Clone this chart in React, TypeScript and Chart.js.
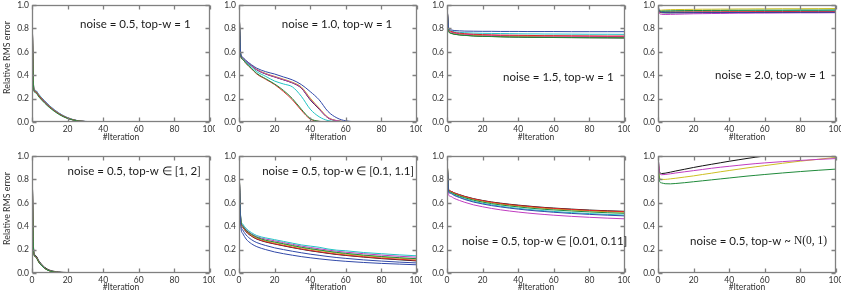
import React, { useEffect, useRef } from "react";
import { Chart, registerables } from "chart.js";

Chart.register(...registerables);

// ---------- shared axes ----------
const ITER = [0, 1, 2, 4, 7, 10, 15, 20, 25, 30, 35, 40, 45, 50, 55, 60, 70, 80, 90, 100];
const X_TICKS = [0, 20, 40, 60, 80, 100];
const Y_TICKS = [0, 0.2, 0.4, 0.6, 0.8, 1.0];
const X_TITLE = "#Iteration";
const Y_TITLE = "Relative RMS error";

// ---------- colours (matplotlib classic cycle) ----------
const C_B = "#3048a8";
const C_G = "#1f8a3a";
const C_R = "#e0282a";
const C_C = "#22c4c4";
const C_M = "#c03cc0";
const C_Y = "#cdbf22";
const C_K = "#111111";

// ---------- panel 1: noise 0.5, top-w = 1 ----------
const P1_B = [1.0, 0.29, 0.27, 0.232, 0.182, 0.137, 0.078, 0.037, 0.014, 0.005, 0.0015, 0.0004, 0.0001, 0, 0, 0, 0, 0, 0, 0];
const P1_G = [0.98, 0.27, 0.25, 0.212, 0.163, 0.121, 0.066, 0.03, 0.011, 0.0035, 0.001, 0.0003, 0, 0, 0, 0, 0, 0, 0, 0];
const P1_R = [0.99, 0.28, 0.26, 0.222, 0.172, 0.129, 0.072, 0.033, 0.012, 0.004, 0.0012, 0.0003, 0, 0, 0, 0, 0, 0, 0, 0];
const P1_C = [1.0, 0.285, 0.265, 0.227, 0.177, 0.133, 0.075, 0.035, 0.013, 0.0045, 0.0013, 0.0003, 0, 0, 0, 0, 0, 0, 0, 0];
const P1_M = [0.99, 0.275, 0.255, 0.218, 0.169, 0.126, 0.07, 0.032, 0.012, 0.004, 0.0012, 0.0003, 0, 0, 0, 0, 0, 0, 0, 0];
const P1_Y = [1.0, 0.283, 0.262, 0.225, 0.175, 0.131, 0.073, 0.034, 0.0125, 0.0042, 0.0012, 0.0003, 0, 0, 0, 0, 0, 0, 0, 0];
const P1_K = [1.0, 0.28, 0.26, 0.221, 0.171, 0.128, 0.071, 0.033, 0.012, 0.004, 0.0012, 0.0003, 0, 0, 0, 0, 0, 0, 0, 0];

// ---------- panel 2: noise 1.0, top-w = 1 ----------
const P2_B = [1.0, 0.58, 0.555, 0.525, 0.49, 0.46, 0.43, 0.41, 0.385, 0.36, 0.32, 0.26, 0.19, 0.09, 0.035, 0.01, 0.001, 0, 0, 0];
const P2_G = [1.0, 0.565, 0.535, 0.5, 0.458, 0.415, 0.37, 0.325, 0.27, 0.2, 0.11, 0.03, 0.006, 0.001, 0, 0, 0, 0, 0, 0];
const P2_R = [1.0, 0.565, 0.535, 0.5, 0.455, 0.41, 0.365, 0.32, 0.26, 0.19, 0.1, 0.025, 0.005, 0.001, 0, 0, 0, 0, 0, 0];
const P2_C = [1.0, 0.57, 0.54, 0.51, 0.47, 0.43, 0.39, 0.35, 0.325, 0.3, 0.22, 0.11, 0.045, 0.012, 0.003, 0.001, 0, 0, 0, 0];
const P2_M = [1.0, 0.572, 0.546, 0.516, 0.482, 0.447, 0.412, 0.387, 0.362, 0.336, 0.293, 0.196, 0.114, 0.037, 0.011, 0.003, 0, 0, 0, 0];
const P2_Y = [1.0, 0.573, 0.548, 0.518, 0.484, 0.45, 0.415, 0.39, 0.366, 0.34, 0.3, 0.205, 0.12, 0.04, 0.012, 0.003, 0, 0, 0, 0];
const P2_K = [1.0, 0.57, 0.545, 0.515, 0.48, 0.445, 0.41, 0.385, 0.36, 0.334, 0.29, 0.19, 0.11, 0.035, 0.01, 0.003, 0, 0, 0, 0];

// ---------- panel 3: noise 1.5, top-w = 1 ----------
const P3_B = [1.0, 0.8, 0.788, 0.782, 0.779, 0.777, 0.776, 0.775, 0.775, 0.774, 0.774, 0.774, 0.773, 0.773, 0.773, 0.773, 0.772, 0.772, 0.772, 0.772];
const P3_G = [1.0, 0.772, 0.758, 0.75, 0.744, 0.74, 0.735, 0.732, 0.73, 0.728, 0.727, 0.726, 0.725, 0.724, 0.723, 0.723, 0.722, 0.721, 0.721, 0.72];
const P3_R = [1.0, 0.79, 0.776, 0.766, 0.759, 0.755, 0.75, 0.747, 0.745, 0.743, 0.742, 0.741, 0.74, 0.739, 0.738, 0.738, 0.737, 0.736, 0.735, 0.735];
const P3_C = [1.0, 0.795, 0.78, 0.771, 0.766, 0.763, 0.76, 0.758, 0.757, 0.756, 0.755, 0.754, 0.753, 0.753, 0.752, 0.752, 0.751, 0.75, 0.75, 0.749];
const P3_M = [1.0, 0.785, 0.77, 0.761, 0.754, 0.75, 0.746, 0.743, 0.741, 0.739, 0.738, 0.737, 0.736, 0.735, 0.734, 0.734, 0.733, 0.732, 0.731, 0.731];
const P3_Y = [1.0, 0.78, 0.766, 0.757, 0.75, 0.746, 0.741, 0.738, 0.736, 0.734, 0.733, 0.732, 0.731, 0.73, 0.729, 0.729, 0.728, 0.727, 0.727, 0.726];
const P3_K = [1.0, 0.776, 0.761, 0.752, 0.745, 0.741, 0.736, 0.733, 0.731, 0.729, 0.727, 0.726, 0.725, 0.724, 0.723, 0.722, 0.721, 0.72, 0.719, 0.718];

// ---------- panel 4: noise 2.0, top-w = 1 ----------
const P4_B = [0.995, 0.945, 0.938, 0.935, 0.934, 0.934, 0.934, 0.935, 0.935, 0.935, 0.935, 0.936, 0.936, 0.936, 0.936, 0.937, 0.937, 0.937, 0.938, 0.938];
const P4_G = [0.96, 0.948, 0.948, 0.949, 0.95, 0.951, 0.952, 0.953, 0.953, 0.954, 0.954, 0.955, 0.955, 0.955, 0.956, 0.956, 0.956, 0.957, 0.957, 0.958];
const P4_R = [0.96, 0.94, 0.939, 0.939, 0.94, 0.94, 0.941, 0.941, 0.942, 0.942, 0.942, 0.943, 0.943, 0.943, 0.944, 0.944, 0.944, 0.945, 0.945, 0.945];
const P4_C = [0.96, 0.944, 0.944, 0.945, 0.946, 0.947, 0.948, 0.948, 0.949, 0.949, 0.95, 0.95, 0.951, 0.951, 0.951, 0.952, 0.952, 0.953, 0.953, 0.954];
const P4_M = [0.95, 0.925, 0.92, 0.919, 0.92, 0.921, 0.923, 0.925, 0.926, 0.927, 0.928, 0.929, 0.93, 0.93, 0.931, 0.931, 0.932, 0.933, 0.933, 0.934];
const P4_Y = [0.96, 0.955, 0.956, 0.958, 0.96, 0.961, 0.962, 0.963, 0.964, 0.964, 0.965, 0.965, 0.966, 0.966, 0.967, 0.967, 0.968, 0.968, 0.969, 0.97];
const P4_K = [0.97, 0.936, 0.934, 0.933, 0.933, 0.934, 0.934, 0.934, 0.935, 0.935, 0.935, 0.935, 0.936, 0.936, 0.936, 0.936, 0.937, 0.937, 0.937, 0.937];

// ---------- panel 5: noise 0.5, top-w in [1, 2] ----------
const P5_B = [1.0, 0.175, 0.145, 0.095, 0.045, 0.02, 0.006, 0.002, 0.0006, 0.0002, 0, 0, 0, 0, 0, 0, 0, 0, 0, 0];
const P5_G = [0.98, 0.165, 0.135, 0.087, 0.04, 0.017, 0.005, 0.0015, 0.0005, 0.0001, 0, 0, 0, 0, 0, 0, 0, 0, 0, 0];
const P5_R = [0.99, 0.17, 0.14, 0.09, 0.042, 0.018, 0.0055, 0.0017, 0.0005, 0.0001, 0, 0, 0, 0, 0, 0, 0, 0, 0, 0];
const P5_C = [1.0, 0.172, 0.142, 0.092, 0.043, 0.019, 0.0058, 0.0018, 0.0005, 0.0001, 0, 0, 0, 0, 0, 0, 0, 0, 0, 0];
const P5_M = [0.99, 0.168, 0.138, 0.089, 0.041, 0.018, 0.0054, 0.0016, 0.0005, 0.0001, 0, 0, 0, 0, 0, 0, 0, 0, 0, 0];
const P5_Y = [1.0, 0.17, 0.141, 0.091, 0.042, 0.0185, 0.0056, 0.0017, 0.0005, 0.0001, 0, 0, 0, 0, 0, 0, 0, 0, 0, 0];
const P5_K = [1.0, 0.18, 0.15, 0.1, 0.05, 0.024, 0.009, 0.004, 0.002, 0.001, 0.0005, 0.0002, 0, 0, 0, 0, 0, 0, 0, 0];

// ---------- panel 6: noise 0.5, top-w in [0.1, 1.1] ----------
const P6_B = [0.93, 0.4, 0.34, 0.29, 0.25, 0.225, 0.2, 0.18, 0.165, 0.152, 0.14, 0.13, 0.121, 0.113, 0.106, 0.1, 0.09, 0.082, 0.076, 0.07];
const P6_G = [0.93, 0.46, 0.405, 0.365, 0.33, 0.305, 0.28, 0.265, 0.25, 0.235, 0.22, 0.208, 0.197, 0.186, 0.176, 0.168, 0.153, 0.141, 0.131, 0.122];
const P6_R = [0.93, 0.45, 0.395, 0.355, 0.318, 0.292, 0.268, 0.25, 0.235, 0.22, 0.205, 0.193, 0.182, 0.171, 0.161, 0.153, 0.139, 0.127, 0.117, 0.108];
const P6_C = [0.93, 0.47, 0.42, 0.38, 0.345, 0.32, 0.3, 0.285, 0.27, 0.255, 0.24, 0.23, 0.22, 0.205, 0.195, 0.19, 0.175, 0.165, 0.155, 0.147];
const P6_M = [0.93, 0.46, 0.41, 0.37, 0.335, 0.31, 0.29, 0.275, 0.26, 0.245, 0.23, 0.218, 0.207, 0.196, 0.186, 0.178, 0.165, 0.153, 0.143, 0.135];
const P6_Y = [0.93, 0.455, 0.4, 0.36, 0.325, 0.3, 0.275, 0.26, 0.245, 0.23, 0.215, 0.203, 0.192, 0.181, 0.171, 0.162, 0.148, 0.136, 0.126, 0.117];
const P6_K = [0.93, 0.45, 0.395, 0.352, 0.315, 0.29, 0.265, 0.248, 0.232, 0.217, 0.203, 0.19, 0.179, 0.168, 0.158, 0.15, 0.136, 0.123, 0.113, 0.103];
const P6_B2 = [0.93, 0.43, 0.37, 0.325, 0.285, 0.26, 0.235, 0.215, 0.2, 0.186, 0.173, 0.161, 0.151, 0.141, 0.132, 0.125, 0.112, 0.102, 0.093, 0.086];

// ---------- panel 7: noise 0.5, top-w in [0.01, 0.11] ----------
const P7_B = [1.0, 0.69, 0.68, 0.663, 0.645, 0.628, 0.606, 0.59, 0.576, 0.565, 0.555, 0.546, 0.538, 0.531, 0.525, 0.519, 0.509, 0.501, 0.494, 0.488];
const P7_G = [1.0, 0.7, 0.69, 0.675, 0.658, 0.643, 0.622, 0.606, 0.593, 0.582, 0.573, 0.565, 0.557, 0.55, 0.544, 0.539, 0.53, 0.522, 0.515, 0.51];
const P7_R = [1.0, 0.71, 0.7, 0.685, 0.668, 0.653, 0.633, 0.618, 0.605, 0.594, 0.585, 0.577, 0.57, 0.563, 0.557, 0.552, 0.543, 0.535, 0.529, 0.524];
const P7_C = [1.0, 0.695, 0.685, 0.668, 0.65, 0.634, 0.612, 0.596, 0.583, 0.571, 0.561, 0.553, 0.545, 0.538, 0.532, 0.526, 0.516, 0.508, 0.501, 0.495];
const P7_M = [1.0, 0.665, 0.655, 0.638, 0.62, 0.604, 0.582, 0.566, 0.552, 0.54, 0.53, 0.521, 0.513, 0.506, 0.5, 0.494, 0.484, 0.476, 0.469, 0.463];
const P7_Y = [1.0, 0.705, 0.695, 0.68, 0.663, 0.648, 0.628, 0.612, 0.6, 0.589, 0.58, 0.572, 0.565, 0.558, 0.552, 0.547, 0.538, 0.53, 0.524, 0.519];
const P7_K = [1.0, 0.71, 0.7, 0.685, 0.67, 0.655, 0.635, 0.62, 0.607, 0.597, 0.588, 0.58, 0.573, 0.566, 0.56, 0.555, 0.546, 0.538, 0.532, 0.527];

// ---------- panel 8: noise 0.5, top-w ~ N(0, 1) ----------
const P8_B = [1.04, 0.996, 1.01, 1.03, 1.05, 1.07, 1.1, 1.12, 1.14, 1.16, 1.18, 1.2, 1.21, 1.22, 1.23, 1.24, 1.26, 1.28, 1.3, 1.32];
const P8_G = [0.95, 0.78, 0.77, 0.763, 0.762, 0.765, 0.772, 0.78, 0.788, 0.796, 0.804, 0.812, 0.82, 0.828, 0.835, 0.842, 0.855, 0.867, 0.878, 0.888];
const P8_R = [1.1, 1.06, 1.07, 1.09, 1.11, 1.13, 1.16, 1.19, 1.21, 1.23, 1.25, 1.27, 1.29, 1.3, 1.31, 1.32, 1.34, 1.36, 1.37, 1.38];
const P8_C = [1.1, 1.08, 1.09, 1.11, 1.13, 1.15, 1.18, 1.2, 1.22, 1.24, 1.26, 1.28, 1.3, 1.31, 1.32, 1.33, 1.35, 1.37, 1.38, 1.39];
const P8_M = [1.0, 0.85, 0.84, 0.842, 0.848, 0.855, 0.865, 0.875, 0.885, 0.895, 0.904, 0.912, 0.92, 0.928, 0.935, 0.941, 0.952, 0.962, 0.971, 0.978];
const P8_Y = [0.98, 0.81, 0.8, 0.8, 0.805, 0.81, 0.82, 0.83, 0.842, 0.853, 0.865, 0.876, 0.887, 0.898, 0.908, 0.918, 0.938, 0.956, 0.972, 0.988];
const P8_K = [1.0, 0.86, 0.85, 0.853, 0.862, 0.872, 0.887, 0.902, 0.916, 0.929, 0.942, 0.955, 0.967, 0.979, 0.99, 1.0, 1.02, 1.04, 1.058, 1.075];

// ---------- styles / layout ----------
const SANS = "Lato, 'Open Sans', sans-serif";
const SERIF = "'Liberation Serif', 'DejaVu Serif', serif";
const TICK_COLOR = "#333333";
const TEXT_COLOR = "#1a1a1a";
const FRAME_COLOR = "#808080";
const COL_LEFT = [32, 239, 447, 658];
const Y_AXIS_W = 32;
const PAD_RIGHT = 5;
const PLOT_W = 178;
const ROWS = [
  { top: 0, height: 146, padTop: 5, xAxisH: 24, titleDy: 15 },
  { top: 146, height: 147, padTop: 10, xAxisH: 20, titleDy: 14 },
];

type Seg = [string, string];
type PanelCfg = {
  row: number;
  col: number;
  series: [string, number[]][];
  label: Seg[];
  ax: number;
  ay: number;
};

const PANELS: PanelCfg[] = [
  { row: 0, col: 0, ax: 0.27, ay: 0.165, label: [["noise = 0.5, top-w = 1", SANS]],
    series: [[C_G, P1_G], [C_R, P1_R], [C_C, P1_C], [C_M, P1_M], [C_Y, P1_Y], [C_K, P1_K], [C_B, P1_B]] },
  { row: 0, col: 1, ax: 0.24, ay: 0.165, label: [["noise = 1.0, top-w = 1", SANS]],
    series: [[C_B, P2_B], [C_G, P2_G], [C_R, P2_R], [C_C, P2_C], [C_M, P2_M], [C_Y, P2_Y], [C_K, P2_K]] },
  { row: 0, col: 2, ax: 0.315, ay: 0.615, label: [["noise = 1.5, top-w = 1", SANS]],
    series: [[C_B, P3_B], [C_G, P3_G], [C_R, P3_R], [C_C, P3_C], [C_M, P3_M], [C_Y, P3_Y], [C_K, P3_K]] },
  { row: 0, col: 3, ax: 0.32, ay: 0.6, label: [["noise = 2.0, top-w = 1", SANS]],
    series: [[C_B, P4_B], [C_G, P4_G], [C_R, P4_R], [C_C, P4_C], [C_M, P4_M], [C_Y, P4_Y], [C_K, P4_K]] },
  { row: 1, col: 0, ax: 0.2, ay: 0.13, label: [["noise = 0.5, top-w \u2208 [1, 2]", SANS]],
    series: [[C_G, P5_G], [C_R, P5_R], [C_C, P5_C], [C_M, P5_M], [C_Y, P5_Y], [C_K, P5_K], [C_B, P5_B]] },
  { row: 1, col: 1, ax: 0.13, ay: 0.13, label: [["noise = 0.5, top-w \u2208 [0.1, 1.1]", SANS]],
    series: [[C_B, P6_B], [C_G, P6_G], [C_R, P6_R], [C_C, P6_C], [C_M, P6_M], [C_Y, P6_Y], [C_K, P6_K], [C_B, P6_B2]] },
  { row: 1, col: 2, ax: 0.084, ay: 0.73, label: [["noise = 0.5, top-w \u2208 [0.01, 0.11]", SANS]],
    series: [[C_B, P7_B], [C_G, P7_G], [C_R, P7_R], [C_C, P7_C], [C_M, P7_M], [C_Y, P7_Y], [C_K, P7_K]] },
  { row: 1, col: 3, ax: 0.18, ay: 0.73, label: [["noise = 0.5, top-w ~ ", SANS], ["N(0, 1)", SERIF]],
    series: [[C_B, P8_B], [C_G, P8_G], [C_R, P8_R], [C_C, P8_C], [C_M, P8_M], [C_Y, P8_Y], [C_K, P8_K]] },
];

const decorPlugin = {
  id: "decor",
  afterDatasetsDraw(chart: any, _args: any, opts: any) {
    const { ctx, chartArea: a } = chart;
    const xs = chart.scales.x;
    const ys = chart.scales.y;
    ctx.save();
    ctx.strokeStyle = FRAME_COLOR;
    ctx.lineWidth = 1.3;
    const L = Math.round(a.left) + 0.5;
    const R = Math.round(a.right) - 0.5;
    const T = Math.round(a.top) + 0.5;
    const B = Math.round(a.bottom) - 0.5;
    ctx.beginPath();
    X_TICKS.forEach((v) => {
      const px = Math.round(xs.getPixelForValue(v)) + 0.5;
      ctx.moveTo(px, B); ctx.lineTo(px, B - 4);
      ctx.moveTo(px, T); ctx.lineTo(px, T + 4);
    });
    Y_TICKS.forEach((v) => {
      const py = Math.round(ys.getPixelForValue(v)) + 0.5;
      ctx.moveTo(L, py); ctx.lineTo(L + 4, py);
      ctx.moveTo(R, py); ctx.lineTo(R - 4, py);
    });
    ctx.stroke();
    ctx.strokeRect(L, T, R - L, B - T);

    // annotation text
    const segs: Seg[] = opts.label || [];
    let x = a.left + opts.ax * (a.right - a.left);
    const y = a.top + opts.ay * (a.bottom - a.top);
    ctx.fillStyle = TEXT_COLOR;
    ctx.textBaseline = "middle";
    ctx.textAlign = "left";
    segs.forEach(([t, fam]) => {
      ctx.font = `11.5px ${fam}`;
      ctx.fillText(t, x, y);
      x += ctx.measureText(t).width;
    });

    // x axis title
    ctx.font = `8.5px ${SANS}`;
    ctx.fillStyle = TICK_COLOR;
    ctx.textAlign = "center";
    ctx.textBaseline = "middle";
    ctx.fillText(X_TITLE, (a.left + a.right) / 2, a.bottom + opts.titleDy);

    if (opts.yTitle) {
      ctx.save();
      ctx.translate(7, (a.top + a.bottom) / 2 - 6);
      ctx.rotate(-Math.PI / 2);
      ctx.font = `8.8px ${SANS}`;
      ctx.fillStyle = TICK_COLOR;
      ctx.textAlign = "center";
      ctx.textBaseline = "middle";
      ctx.fillText(Y_TITLE, 0, 0);
      ctx.restore();
    }
    ctx.restore();
  },
};

function Panel({ cfg }: { cfg: PanelCfg }) {
  const ref = useRef<HTMLCanvasElement>(null);
  const row = ROWS[cfg.row];
  const left = COL_LEFT[cfg.col] - Y_AXIS_W;
  const width = Y_AXIS_W + PLOT_W + PAD_RIGHT;

  useEffect(() => {
    const tickFont = { family: SANS, size: 8.5 };
    const chart = new Chart(ref.current as HTMLCanvasElement, {
      type: "line",
      data: {
        datasets: cfg.series.map(([color, vals]) => ({
          data: ITER.map((x, i) => ({ x, y: vals[i] })),
          borderColor: color,
          backgroundColor: color,
          borderWidth: 1,
          pointRadius: 0,
          fill: false,
          cubicInterpolationMode: "monotone" as const,
        })),
      },
      options: {
        animation: false,
        responsive: false,
        maintainAspectRatio: false,
        events: [],
        layout: { padding: { top: row.padTop, right: PAD_RIGHT, left: 0, bottom: 0 } },
        plugins: {
          legend: { display: false },
          tooltip: { enabled: false },
          decor: { label: cfg.label, ax: cfg.ax, ay: cfg.ay, yTitle: cfg.col === 0, titleDy: row.titleDy },
        } as any,
        scales: {
          x: {
            type: "linear",
            min: 0,
            max: 100,
            afterBuildTicks: (s: any) => { s.ticks = X_TICKS.map((v) => ({ value: v })); },
            afterFit: (s: any) => { s.height = row.xAxisH; s.paddingLeft = 0; s.paddingRight = 0; },
            ticks: { font: tickFont, color: TICK_COLOR, padding: 2, maxRotation: 0, autoSkip: false, callback: (v: any) => String(v) },
            grid: { display: false, drawTicks: false },
            border: { display: false },
            title: { display: false },
          },
          y: {
            type: "linear",
            min: 0,
            max: 1,
            afterBuildTicks: (s: any) => { s.ticks = Y_TICKS.map((v) => ({ value: v })); },
            afterFit: (s: any) => { s.width = Y_AXIS_W; s.paddingTop = 0; s.paddingBottom = 0; },
            ticks: { font: tickFont, color: TICK_COLOR, padding: 3, autoSkip: false, callback: (v: any) => Number(v).toFixed(1) },
            grid: { display: false, drawTicks: false },
            border: { display: false },
          },
        },
      },
      plugins: [decorPlugin],
    } as any);
    return () => chart.destroy();
  }, []);

  return (
    <canvas
      ref={ref}
      width={width}
      height={row.height}
      style={{ position: "absolute", left, top: row.top, width, height: row.height }}
    />
  );
}

export default function App() {
  return (
    <div style={{ position: "absolute", left: 0, top: 0, width: 841, height: 293, overflow: "hidden", background: "#ffffff" }}>
      {PANELS.map((p, i) => (
        <Panel key={i} cfg={p} />
      ))}
    </div>
  );
}
